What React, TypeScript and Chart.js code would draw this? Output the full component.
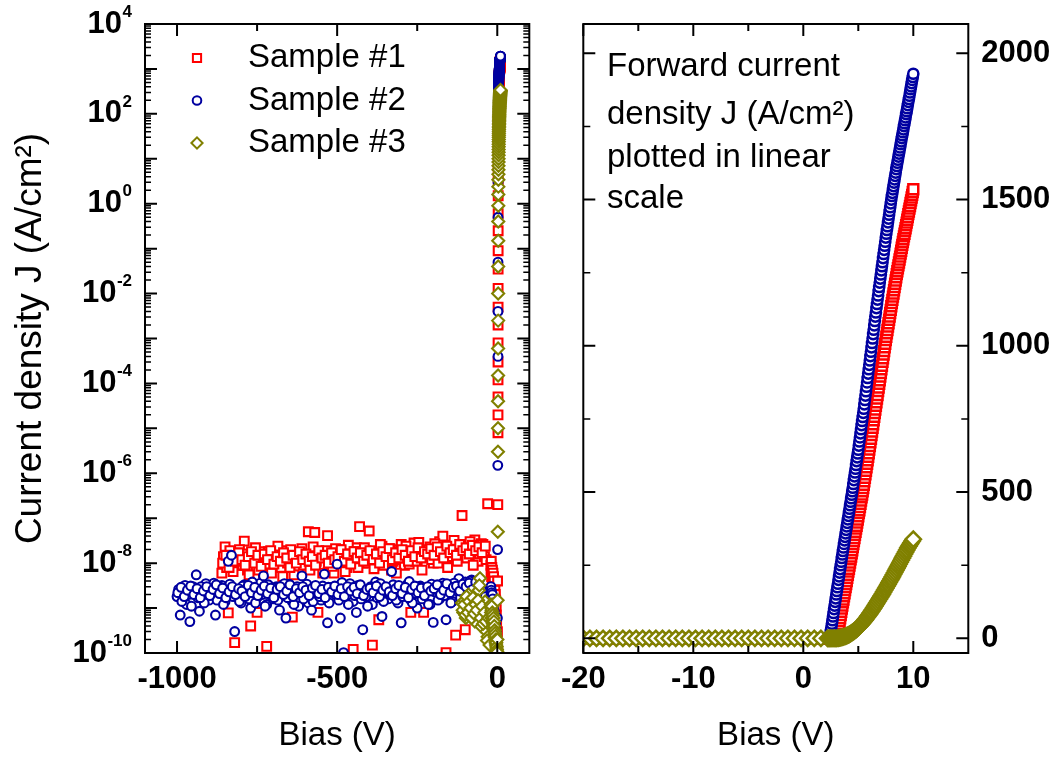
import React, { useEffect, useRef } from 'react';
import { Chart, registerables } from 'chart.js';

Chart.register(...registerables);

const FAMILY = '"Liberation Sans", Arial, Helvetica, sans-serif';

// ---------- series meta ----------
const seriesNames = ['Sample #1', 'Sample #2', 'Sample #3'];
const seriesColors = ['#ff0000', '#0000a0', '#808000'];
const seriesStyles = ['rect', 'circle', 'rectRot'];

// ---------- axis ticks / labels ----------
const leftXTicks = [-1000, -500, 0];
const leftXMinor = [-750, -250];
const leftYExponents = [4, 2, 0, -2, -4, -6, -8, -10];
const rightXTicks = [-20, -10, 0, 10];
const rightXMinor = [-15, -5, 5];
const rightYTicks = [0, 500, 1000, 1500, 2000];
const rightYMinor = [250, 750, 1250, 1750];
const leftXTitle = 'Bias (V)';
const rightXTitle = 'Bias (V)';
const leftYTitle = 'Current density J (A/cm\u00B2)';
const annotationLines = ['Forward current', 'density J (A/cm\u00B2)', 'plotted in linear', 'scale'];

// ---------- wide reverse sweep (V), pass A ----------
const reverseBias = [
  -1000, -990, -980, -970, -960, -950, -940, -930, -920, -910,
  -900, -890, -880, -870, -860, -850, -840, -830, -820, -810,
  -800, -790, -780, -770, -760, -750, -740, -730, -720, -710,
  -700, -690, -680, -670, -660, -650, -640, -630, -620, -610,
  -600, -590, -580, -570, -560, -550, -540, -530, -520, -510,
  -500, -490, -480, -470, -460, -450, -440, -430, -420, -410,
  -400, -390, -380, -370, -360, -350, -340, -330, -320, -310,
  -300, -290, -280, -270, -260, -250, -240, -230, -220, -210,
  -200, -190, -180, -170, -160, -150, -140, -130, -120, -110,
  -100, -90, -80, -70, -60, -50, -40, -30,
];
const sample1Reverse = [
  null, null, null, null, null, null, null, null, null, null,
  null, null, null, null, 6e-9, 2.3e-8, 7.8e-10, 1.2e-8, 1.7e-10, 9e-9,
  1.5e-8, 3.1e-8, 7e-9, 4e-10, 1.3e-8, 8e-10, 1.8e-8, 6e-9, 1.4e-10, 1.1e-8,
  1.6e-8, 8e-9, 1.2e-8, 5e-9, 1.9e-8, 9e-9, 6.3e-10, 1.4e-8, 7e-9, 2.1e-8,
  1e-8, 5e-8, 1.3e-8, 4.8e-8, 8e-10, 1.6e-8, 9e-9, 4.1e-8, 1.1e-8, 6e-9,
  1.7e-8, 1.2e-8, 2e-8, 8e-9, 1.4e-8, 1.2e-10, 2.2e-8, 6.5e-8, 1e-8, 1.9e-8,
  5.2e-8, 1.5e-10, 1.3e-8, 5.5e-10, 2.4e-8, 1.1e-8, 1.6e-8, 7e-9, 2e-8, 1.2e-8,
  2.6e-8, 9e-9, 1.5e-8, 8e-10, 2.8e-8, 1.2e-8, 1.8e-8, 8e-10, 1.4e-8, 2.3e-8,
  1e-8, 1.7e-8, 3e-8, 4e-8, 1.02e-10, 1.3e-8, 2.5e-8, 2.5e-10, 1.9e-8, 1.15e-7,
  3.3e-10, 2.2e-8, 1.5e-8, 3.3e-8, 1.1e-8, 2.7e-8, 1.4e-8, 2.1e-7,
];
const sample2Reverse = [
  1.8e-9, 7e-10, 2.5e-9, 1.2e-9, 5e-10, 3e-9, 5.5e-9, 8.5e-10, 2.2e-9, 3.5e-9,
  1.5e-9, 2.8e-9, 7e-10, 2e-9, 3.2e-9, 1.4e-9, 1.1e-8, 1.5e-8, 3e-10, 2.6e-9,
  1.3e-9, 3.3e-9, 2e-9, 1e-9, 2.8e-9, 1.7e-9, 3.6e-9, 5.2e-9, 1.2e-9, 2.5e-9,
  1.6e-9, 3e-9, 9e-10, 2.2e-9, 6e-10, 3.4e-9, 1.4e-9, 2.6e-9, 1.1e-9, 5.2e-9,
  2e-9, 1.3e-9, 9e-10, 3e-9, 2.3e-9, 1.5e-9, 5.7e-9, 4.7e-10, 2.7e-9, 1.7e-9,
  9.5e-9, 6e-10, 1.02e-10, 2.4e-9, 3.5e-9, 1.4e-9, 8e-10, 2.9e-9, 3.3e-10, 1.8e-9,
  2.6e-9, 1.2e-9, 3.8e-9, 2.1e-9, 6.5e-10, 2.5e-9, 1.6e-9, 6.5e-9, 3e-9, 1.3e-9,
  4.7e-10, 2.2e-9, 3.4e-9, 1.5e-9, 2.7e-9, 1e-9, 3.1e-9, 1.9e-9, 2.4e-9, 1.2e-9,
  4.8e-10, 2.9e-9, 1.6e-9, 3.6e-9, 5.5e-10, 2.3e-9, 1.4e-9, 3.2e-9, 4.5e-9, 2e-9,
  3.8e-9, 1.2e-9, 4.2e-9, 2.6e-9, 3.5e-9, 1.8e-9, 9e-10, 4e-10,
];

// ---------- wide reverse sweep (V), pass B ----------
const reverseBiasB = [
  -995, -985, -975, -965, -955, -945, -935, -925, -915, -905,
  -895, -885, -875, -865, -855, -845, -835, -825, -815, -805,
  -795, -785, -775, -765, -755, -745, -735, -725, -715, -705,
  -695, -685, -675, -665, -655, -645, -635, -625, -615, -605,
  -595, -585, -575, -565, -555, -545, -535, -525, -515, -505,
  -495, -485, -475, -465, -455, -445, -435, -425, -415, -405,
  -395, -385, -375, -365, -355, -345, -335, -325, -315, -305,
  -295, -285, -275, -265, -255, -245, -235, -225, -215, -205,
  -195, -185, -175, -165, -155, -145, -135, -125, -115, -105,
  -95, -85, -75, -65, -55, -45, -35,
];
const sample1ReverseB = [
  null, null, null, null, null, null, null, null, null, null,
  null, null, null, null, 1.4e-8, 8e-9, 1.9e-8, 6.5e-9, 1.2e-8, 2e-8,
  9e-9, 1.6e-8, 5.5e-9, 1.1e-8, 2.2e-8, 7e-9, 1.3e-8, 9.5e-9, 1.8e-8, 6e-9,
  1.2e-8, 2.4e-8, 8e-9, 1.5e-8, 1e-8, 2e-8, 5.5e-9, 1.3e-8, 1.7e-8, 9e-9,
  1.4e-8, 7e-9, 2.3e-8, 1.1e-8, 1.6e-8, 6e-9, 1.9e-8, 1.2e-8, 8.5e-9, 2.1e-8,
  1e-8, 1.5e-8, 6.5e-9, 2.5e-8, 1.2e-8, 1.8e-8, 8e-9, 1.4e-8, 2.2e-8, 1e-8,
  1.7e-8, 7.5e-9, 1.3e-8, 2.6e-8, 9e-9, 1.5e-8, 2.1e-8, 1.1e-8, 6e-9, 1.8e-8,
  1.3e-8, 2.4e-8, 9.5e-9, 1.6e-8, 1.1e-8, 2.9e-8, 7e-9, 1.5e-8, 2e-8, 1.2e-8,
  2.7e-8, 1e-8, 1.7e-8, 2.3e-8, 8e-9, 1.4e-8, 3.2e-8, 1.1e-8, 1.9e-8, 2.5e-8,
  1.3e-8, 3e-8, 9e-9, 2e-8, 1.6e-8, 2.6e-8, 1.2e-8,
];
const sample2ReverseB = [
  2.6e-9, 1.4e-9, 3.2e-9, 2e-9, 1.1e-9, 2.4e-9, 1.7e-9, 3e-9, 1.3e-9, 2.7e-9,
  2.1e-9, 3.6e-9, 1.5e-9, 2.9e-9, 1.2e-9, 2.3e-9, 3.4e-9, 1.8e-9, 2.5e-9, 1.4e-9,
  3.1e-9, 2.2e-9, 1.6e-9, 3.8e-9, 1.3e-9, 2.6e-9, 2e-9, 1.1e-9, 3.3e-9, 1.9e-9,
  2.8e-9, 1.5e-9, 2.4e-9, 3.5e-9, 1.7e-9, 2.2e-9, 1.2e-9, 3e-9, 2.6e-9, 1.6e-9,
  3.4e-9, 2.1e-9, 1.4e-9, 2.7e-9, 1.8e-9, 3.1e-9, 2.3e-9, 1.3e-9, 2.9e-9, 2e-9,
  1.5e-9, 3.7e-9, 2.5e-9, 1.2e-9, 2.8e-9, 1.9e-9, 3.2e-9, 1.6e-9, 2.4e-9, 1.1e-9,
  3e-9, 2.2e-9, 1.7e-9, 3.5e-9, 1.4e-9, 2.6e-9, 2e-9, 3.3e-9, 1.5e-9, 2.8e-9,
  1.8e-9, 2.5e-9, 3.9e-9, 1.3e-9, 2.1e-9, 3e-9, 1.6e-9, 2.7e-9, 1.2e-9, 3.4e-9,
  2.3e-9, 1.5e-9, 3.1e-9, 1.9e-9, 2.6e-9, 1.3e-9, 3.6e-9, 2.4e-9, 1.7e-9, 3.2e-9,
  2.8e-9, 4e-9, 3.3e-9, 1.9e-9, 4.4e-9, 2.5e-9, 1.5e-9,
];

// ---------- wide reverse sweep (V), pass C ----------
const reverseBiasC = [
  -997.5, -987.5, -977.5, -967.5, -957.5, -947.5, -937.5, -927.5, -917.5, -907.5,
  -897.5, -887.5, -877.5, -867.5, -857.5, -847.5, -837.5, -827.5, -817.5, -807.5,
  -797.5, -787.5, -777.5, -767.5, -757.5, -747.5, -737.5, -727.5, -717.5, -707.5,
  -697.5, -687.5, -677.5, -667.5, -657.5, -647.5, -637.5, -627.5, -617.5, -607.5,
  -597.5, -587.5, -577.5, -567.5, -557.5, -547.5, -537.5, -527.5, -517.5, -507.5,
  -497.5, -487.5, -477.5, -467.5, -457.5, -447.5, -437.5, -427.5, -417.5, -407.5,
  -397.5, -387.5, -377.5, -367.5, -357.5, -347.5, -337.5, -327.5, -317.5, -307.5,
  -297.5, -287.5, -277.5, -267.5, -257.5, -247.5, -237.5, -227.5, -217.5, -207.5,
  -197.5, -187.5, -177.5, -167.5, -157.5, -147.5, -137.5, -127.5, -117.5, -107.5,
  -97.5, -87.5, -77.5, -67.5, -57.5, -47.5, -37.5,
];
const sample1ReverseC = [
  null, null, null, null, null, null, null, null, null, null,
  null, null, null, null, 1e-8, 1.5e-8, 8e-9, 1.3e-8, 1.1e-8, 1.7e-8,
  1.2e-8, 9e-9, 1.4e-8, 1.8e-8, 1e-8, 1.5e-8, 8.5e-9, 1.6e-8, 1.2e-8, 1.9e-8,
  9.5e-9, 1.4e-8, 1.1e-8, 1.7e-8, 1.3e-8, 8e-9, 1.5e-8, 1e-8, 1.8e-8, 1.2e-8,
  1.6e-8, 1.1e-8, 1.4e-8, 9e-9, 1.9e-8, 1.3e-8, 1.5e-8, 1e-8, 1.7e-8, 1.2e-8,
  1.4e-8, 2e-8, 1.1e-8, 1.6e-8, 9.5e-9, 1.8e-8, 1.3e-8, 1.7e-8, 1.1e-8, 1.5e-8,
  1.9e-8, 1.2e-8, 1.6e-8, 1e-8, 1.8e-8, 1.4e-8, 2.1e-8, 1.2e-8, 1.7e-8, 1.3e-8,
  2e-8, 1.5e-8, 1.1e-8, 1.9e-8, 1.4e-8, 2.2e-8, 1.3e-8, 1.8e-8, 1.6e-8, 2.1e-8,
  1.5e-8, 2.3e-8, 1.8e-8, 1.3e-8, 2.4e-8, 1.7e-8, 2e-8, 1.5e-8, 2.6e-8, 1.9e-8,
  2.2e-8, 1.6e-8, 2.5e-8, 1.9e-8, 2.3e-8, 1.7e-8, 2.4e-8,
];
const sample2ReverseC = [
  2.2e-9, 2.9e-9, 1.8e-9, 2.5e-9, 3.1e-9, 2e-9, 2.7e-9, 1.7e-9, 2.4e-9, 3e-9,
  1.9e-9, 2.6e-9, 3.3e-9, 2.1e-9, 2.8e-9, 1.7e-9, 2.3e-9, 3e-9, 2e-9, 2.7e-9,
  2.4e-9, 1.8e-9, 3.2e-9, 2.2e-9, 2.9e-9, 1.9e-9, 2.5e-9, 3.1e-9, 2.1e-9, 2.8e-9,
  1.7e-9, 2.6e-9, 3e-9, 2e-9, 2.4e-9, 3.3e-9, 1.8e-9, 2.7e-9, 2.2e-9, 3e-9,
  2.5e-9, 1.9e-9, 2.8e-9, 3.2e-9, 2.1e-9, 2.6e-9, 1.7e-9, 2.9e-9, 2.3e-9, 3.1e-9,
  2e-9, 2.7e-9, 1.8e-9, 3e-9, 2.4e-9, 2.9e-9, 2.1e-9, 3.3e-9, 1.9e-9, 2.6e-9,
  2.8e-9, 2.2e-9, 3.1e-9, 1.8e-9, 2.5e-9, 3e-9, 2.3e-9, 1.9e-9, 2.7e-9, 3.2e-9,
  2.1e-9, 2.9e-9, 1.7e-9, 2.6e-9, 3.1e-9, 2.2e-9, 2.8e-9, 1.9e-9, 3e-9, 2.4e-9,
  2.7e-9, 3.3e-9, 2e-9, 2.5e-9, 3.5e-9, 2.2e-9, 2.9e-9, 3.1e-9, 2.4e-9, 3.4e-9,
  3e-9, 3.6e-9, 2.6e-9, 3.8e-9, 3.2e-9, 2.4e-9, 1.8e-9,
];

// ---------- Sample #3 short reverse sweep ----------
const reverseBias3 = [
  -110, -106, -102, -98, -94, -90, -86, -82, -78, -74,
  -70, -66, -62, -58, -54, -50, -46, -42, -38, -34,
  -30, -26, -22,
];
const sample3Reverse = [
  1.3e-9, 8e-10, 1.5e-9, 6e-10, 1.1e-9, 2e-9, 7e-10, 1.3e-9, 9e-10, 1.6e-9,
  5e-10, 1.1e-9, 8e-10, 2.5e-9, 4.6e-9, 3.9e-10, 1e-9, 6e-10, 1.4e-9, 3e-10,
  2.3e-10, 7e-10, 4e-10,
];
const reverseBias3B = [
  -108, -104, -100, -96, -92, -88, -84, -80, -76, -72,
  -68, -64, -60, -56, -52, -48, -44, -40, -36, -32,
  -28, -24,
];
const sample3ReverseB = [
  9e-10, 1.2e-9, 7e-10, 1.8e-9, 8e-10, 1.4e-9, 1e-9, 6e-10, 1.7e-9, 7.5e-10,
  1.2e-9, 9e-10, 1.5e-9, 3.2e-9, 6e-10, 1.1e-9, 4.5e-10, 8e-10, 5e-10, 1.9e-10,
  6e-10, 1.5e-10,
];

// ---------- -20 V .. 2.2 V sweep ----------
const biasCoarse = [
  -20, -19.4, -18.8, -18.2, -17.6, -17, -16.4, -15.8, -15.2, -14.6,
  -14, -13.4, -12.8, -12.2, -11.6, -11, -10.4, -9.8, -9.2, -8.6,
  -8, -7.4, -6.8, -6.2, -5.6, -5, -4.4, -3.8, -3.2, -2.6,
  -2, -1.4, -0.8, -0.2, 0.4, 1, 1.6, 2.2,
];
const sample1Coarse = [
  9e-9, 6e-9, 1.1e-8, 7e-9, 5e-9, 8e-9, 6e-9, 4e-9, 7e-9, 5e-9,
  3.5e-9, 6e-9, 4e-9, 3e-9, 5e-9, 3e-9, 2.5e-9, 4e-9, 2e-9, 3e-9,
  1.8e-9, 2.5e-9, 1.5e-9, 2e-9, 1.2e-9, 1.5e-9, 9e-10, 1.1e-9, 7e-10, 5e-10,
  4e-10, 2.5e-10, 1.6e-10, 1.1e-10, 3e-10, 4e-9, 2e-7, 8e-6,
];
const sample2Coarse = [
  3e-9, 2e-9, 2.5e-9, 1.5e-9, 2.2e-9, 1.3e-9, 1.8e-9, 1.2e-9, 2e-9, 1e-9,
  1.6e-9, 9e-10, 1.3e-9, 8e-10, 1.1e-9, 7e-10, 9e-10, 6e-10, 8e-10, 5e-10,
  6.5e-10, 4.5e-10, 5.5e-10, 3.5e-10, 4.5e-10, 3e-10, 3.5e-10, 2.5e-10, 2.8e-10, 2e-10,
  1.6e-10, 1.3e-10, 1.1e-10, 1.05e-10, 6e-10, 2e-8, 1.5e-6, 4e-4,
];
const sample3Coarse = [
  1.2e-9, 8e-10, 1e-9, 6e-10, 9e-10, 1.1e-9, 7e-10, 5e-10, 8e-10, 6e-10,
  4.5e-10, 7e-10, 5e-10, 4e-10, 6e-10, 3.5e-10, 5e-10, 3e-10, 4e-10, 2.6e-10,
  3.2e-10, 2.2e-10, 2.8e-10, 1.9e-10, 2.4e-10, 1.7e-10, 2e-10, 1.5e-10, 1.7e-10, 1.3e-10,
  1.4e-10, 1.2e-10, 1.1e-10, 1.05e-10, 2e-10, 1.5e-9, 5e-8, 3e-6,
];

// ---------- forward sweep, fine steps (Samples #1 and #2) ----------
const biasFine = [
  2.25, 2.3, 2.35, 2.4, 2.45, 2.5, 2.55, 2.6, 2.65, 2.7,
  2.75, 2.8, 2.85, 2.9, 2.95, 3, 3.05, 3.1, 3.15, 3.2,
  3.25, 3.3, 3.35, 3.4, 3.45, 3.5, 3.55, 3.6, 3.65, 3.7,
  3.75, 3.8, 3.85, 3.9, 3.95, 4, 4.05, 4.1, 4.15, 4.2,
  4.25, 4.3, 4.35, 4.4, 4.45, 4.5, 4.55, 4.6, 4.65, 4.7,
  4.75, 4.8, 4.85, 4.9, 4.95, 5, 5.05, 5.1, 5.15, 5.2,
  5.25, 5.3, 5.35, 5.4, 5.45, 5.5, 5.55, 5.6, 5.65, 5.7,
  5.75, 5.8, 5.85, 5.9, 5.95, 6, 6.05, 6.1, 6.15, 6.2,
  6.25, 6.3, 6.35, 6.4, 6.45, 6.5, 6.55, 6.6, 6.65, 6.7,
  6.75, 6.8, 6.85, 6.9, 6.95, 7, 7.05, 7.1, 7.15, 7.2,
  7.25, 7.3, 7.35, 7.4, 7.45, 7.5, 7.55, 7.6, 7.65, 7.7,
  7.75, 7.8, 7.85, 7.9, 7.95, 8, 8.05, 8.1, 8.15, 8.2,
  8.25, 8.3, 8.35, 8.4, 8.45, 8.5, 8.55, 8.6, 8.65, 8.7,
  8.75, 8.8, 8.85, 8.9, 8.95, 9, 9.05, 9.1, 9.15, 9.2,
  9.25, 9.3, 9.35, 9.4, 9.45, 9.5, 9.55, 9.6, 9.65, 9.7,
  9.75, 9.8, 9.85, 9.9, 9.95, 10,
];
const sample1Fine = [
  2e-5, 5e-5, 1.2e-4, 3e-4, 8e-4, 2e-3, 5e-3, 0.013, 0.035, 0.09,
  0.25, 0.6, 1.5, 3, 5, 8, 14, 21, 29, 38,
  48, 58, 69, 80, 91, 102, 112, 123, 133, 144,
  154, 165, 175, 186, 196, 207, 217, 228, 238, 249,
  259, 270, 280, 291, 301, 312, 322, 333, 343, 354,
  364, 375, 385, 396, 406, 417, 428, 438, 449, 460,
  471, 482, 492, 503, 514, 525, 537, 549, 561, 573,
  585, 597, 609, 621, 633, 645, 657, 670, 682, 695,
  707, 720, 732, 745, 757, 770, 782, 795, 807, 820,
  832, 845, 857, 870, 882, 895, 907, 920, 932, 945,
  957, 970, 982, 995, 1007, 1020, 1031, 1043, 1054, 1066,
  1077, 1089, 1100, 1112, 1123, 1135, 1146, 1157, 1168, 1179,
  1190, 1201, 1212, 1223, 1234, 1245, 1255, 1265, 1275, 1285,
  1295, 1305, 1315, 1325, 1335, 1345, 1355, 1364, 1374, 1383,
  1393, 1402, 1412, 1421, 1431, 1440, 1450, 1459, 1469, 1478,
  1488, 1497, 1507, 1516, 1526, 1535,
];
const sample2Fine = [
  0.004, 0.05, 0.5, 3, 12, 25, 37, 50, 62, 75,
  87, 100, 112, 125, 137, 150, 162, 175, 187, 200,
  212, 225, 237, 250, 262, 275, 287, 299, 311, 323,
  335, 347, 359, 371, 383, 395, 407, 419, 431, 443,
  455, 467, 479, 491, 503, 515, 528, 541, 554, 567,
  580, 593, 606, 619, 632, 645, 659, 673, 687, 701,
  715, 729, 743, 757, 771, 785, 800, 815, 830, 845,
  860, 875, 890, 905, 920, 935, 950, 965, 980, 995,
  1010, 1025, 1040, 1055, 1070, 1085, 1100, 1114, 1129, 1143,
  1158, 1172, 1187, 1201, 1216, 1230, 1244, 1258, 1272, 1286,
  1300, 1314, 1328, 1342, 1356, 1370, 1383, 1396, 1409, 1422,
  1435, 1448, 1461, 1474, 1487, 1500, 1512, 1523, 1535, 1546,
  1558, 1569, 1581, 1592, 1604, 1615, 1626, 1636, 1647, 1657,
  1668, 1678, 1689, 1699, 1710, 1720, 1730, 1740, 1751, 1761,
  1771, 1781, 1792, 1802, 1812, 1823, 1834, 1844, 1855, 1866,
  1877, 1887, 1898, 1909, 1919, 1930,
];

// ---------- forward sweep, Sample #3 ----------
const biasFine3 = [
  2.3, 2.4, 2.5, 2.6, 2.7, 2.8, 2.9, 3, 3.1, 3.2,
  3.3, 3.4, 3.5, 3.6, 3.7, 3.8, 3.9, 4, 4.1, 4.2,
  4.3, 4.4, 4.5, 4.6, 4.7, 4.8, 4.9, 5, 5.1, 5.2,
  5.3, 5.4, 5.5, 5.6, 5.7, 5.8, 5.9, 6, 6.1, 6.2,
  6.3, 6.4, 6.5, 6.6, 6.7, 6.8, 6.9, 7, 7.1, 7.2,
  7.3, 7.4, 7.5, 7.6, 7.7, 7.8, 7.9, 8, 8.1, 8.2,
  8.3, 8.4, 8.5, 8.6, 8.7, 8.8, 8.9, 9, 9.1, 9.2,
  9.3, 9.4, 9.5, 9.6, 9.7, 9.8, 9.9, 10,
];
const sample3Fine = [
  1e-5, 4e-5, 1.5e-4, 6e-4, 2.5e-3, 0.01, 0.04, 0.15, 0.4, 0.9,
  1.6, 2.4, 3.4, 4.5, 5.7, 7, 8.5, 10, 12, 14,
  16, 18.5, 21, 24, 27, 30, 33.5, 37, 41, 45,
  49, 53, 57.5, 62, 67, 72, 77, 82, 87.5, 93,
  98.5, 104, 110, 116, 122, 128, 134, 140, 146, 152,
  158.5, 165, 171.5, 178, 184.5, 191, 197.5, 204, 211, 218,
  225, 232, 239, 246, 253, 260, 267, 274, 281, 288,
  295, 302, 309, 315, 321, 327, 333, 339,
];

// ---------- helpers ----------
type Pt = { x: number; y: number };
function toPoints(xs: number[], ys: (number | null)[]): Pt[] {
  const out: Pt[] = [];
  xs.forEach((x, i) => {
    const y = ys[i];
    if (y !== null && y !== undefined) out.push({ x, y });
  });
  return out;
}

const seriesPoints: Pt[][] = [
  [
    ...toPoints(reverseBias, sample1Reverse),
    ...toPoints(reverseBiasB, sample1ReverseB),
    ...toPoints(reverseBiasC, sample1ReverseC),
    ...toPoints(biasCoarse, sample1Coarse),
    ...toPoints(biasFine, sample1Fine),
  ],
  [
    ...toPoints(reverseBias, sample2Reverse),
    ...toPoints(reverseBiasB, sample2ReverseB),
    ...toPoints(reverseBiasC, sample2ReverseC),
    ...toPoints(biasCoarse, sample2Coarse),
    ...toPoints(biasFine, sample2Fine),
  ],
  [
    ...toPoints(reverseBias3, sample3Reverse),
    ...toPoints(reverseBias3B, sample3ReverseB),
    ...toPoints(biasCoarse, sample3Coarse),
    ...toPoints(biasFine3, sample3Fine),
  ],
];

function drawMarker(ctx: CanvasRenderingContext2D, style: string, x: number, y: number, r: number, color: string) {
  ctx.save();
  ctx.lineWidth = 2;
  ctx.strokeStyle = color;
  ctx.fillStyle = '#ffffff';
  ctx.beginPath();
  if (style === 'rect') {
    const s = r * Math.SQRT1_2;
    ctx.rect(x - s, y - s, 2 * s, 2 * s);
  } else if (style === 'circle') {
    ctx.arc(x, y, r, 0, Math.PI * 2);
  } else {
    ctx.moveTo(x - r, y);
    ctx.lineTo(x, y - r);
    ctx.lineTo(x + r, y);
    ctx.lineTo(x, y + r);
    ctx.closePath();
  }
  ctx.fill();
  ctx.stroke();
  ctx.restore();
}

type TickSpec = { xMajor: number[]; xMinor: number[]; yMajor: number[]; yMinor: number[]; yMinorLen: number };

function framePlugin(spec: TickSpec) {
  return {
    id: 'frameTicks',
    afterDatasetsDraw(chart: any) {
      const { ctx, chartArea: a, scales } = chart;
      const xs = scales.x;
      const ys = scales.y;
      ctx.save();
      ctx.strokeStyle = '#000';
      ctx.lineWidth = 2;
      ctx.beginPath();
      const seg = (x1: number, y1: number, x2: number, y2: number) => {
        ctx.moveTo(x1, y1);
        ctx.lineTo(x2, y2);
      };
      spec.xMajor.forEach((v) => {
        const p = xs.getPixelForValue(v);
        seg(p, a.top, p, a.top + 12);
        seg(p, a.bottom, p, a.bottom - 12);
      });
      spec.xMinor.forEach((v) => {
        const p = xs.getPixelForValue(v);
        seg(p, a.top, p, a.top + 7);
        seg(p, a.bottom, p, a.bottom - 7);
      });
      spec.yMajor.forEach((v) => {
        const p = ys.getPixelForValue(v);
        seg(a.left, p, a.left + 12, p);
        seg(a.right, p, a.right - 12, p);
      });
      ctx.stroke();
      ctx.lineWidth = 1.5;
      ctx.beginPath();
      spec.yMinor.forEach((v) => {
        const p = ys.getPixelForValue(v);
        seg(a.left, p, a.left + spec.yMinorLen, p);
        seg(a.right, p, a.right - spec.yMinorLen, p);
      });
      ctx.stroke();
      ctx.lineWidth = 2;
      ctx.strokeRect(a.left, a.top, a.right - a.left, a.bottom - a.top);
      ctx.restore();
    },
  };
}

const logDecades: number[] = [];
const logMinor: number[] = [];
for (let e = -10; e <= 4; e++) {
  logDecades.push(Math.pow(10, e));
  if (e < 4) for (let k = 2; k <= 9; k++) logMinor.push(k * Math.pow(10, e));
}

const logLabelPlugin = {
  id: 'logLabels',
  afterDraw(chart: any) {
    const { ctx } = chart;
    const ys = chart.scales.y;
    const right = 132;
    ctx.save();
    ctx.fillStyle = '#000';
    ctx.textBaseline = 'middle';
    leftYExponents.forEach((e) => {
      const py = ys.getPixelForValue(Math.pow(10, e));
      const expText = String(e);
      ctx.font = `bold 17px ${FAMILY}`;
      const ew = ctx.measureText(expText).width;
      ctx.textAlign = 'left';
      ctx.fillText(expText, right - ew, py - 12);
      ctx.font = `bold 31px ${FAMILY}`;
      ctx.textAlign = 'right';
      ctx.fillText('10', right - ew - 0.5, py);
    });
    ctx.restore();
  },
};

const legendRows = [58, 100.5, 143];
const legendRadius = [5.8, 4.3, 5.6];
const legendPlugin = {
  id: 'innerLegend',
  afterDraw(chart: any) {
    const { ctx } = chart;
    ctx.save();
    seriesNames.forEach((name, i) => {
      drawMarker(ctx, seriesStyles[i], 197, legendRows[i], legendRadius[i], seriesColors[i]);
      ctx.fillStyle = '#000';
      ctx.font = `33px ${FAMILY}`;
      ctx.textAlign = 'left';
      ctx.textBaseline = 'middle';
      ctx.fillText(name, 248, legendRows[i]);
    });
    ctx.restore();
  },
};

const annotationBaselines = [76, 124, 166.5, 208];
const annotationPlugin = {
  id: 'annotationText',
  afterDraw(chart: any) {
    const { ctx } = chart;
    ctx.save();
    ctx.fillStyle = '#000';
    ctx.font = `33px ${FAMILY}`;
    ctx.textAlign = 'left';
    ctx.textBaseline = 'alphabetic';
    annotationLines.forEach((t, i) => ctx.fillText(t, 51, annotationBaselines[i]));
    ctx.restore();
  },
};

const tickFont = { family: FAMILY, size: 31, weight: 'bold' as const };
const titleFont = { family: FAMILY, size: 33 };

function zeroPadding(s: any) {
  s.paddingLeft = 0;
  s.paddingRight = 0;
  s.paddingTop = 0;
  s.paddingBottom = 0;
}

function makeDatasets(radii: number[], lineW: number) {
  return seriesPoints.map((pts, i) => ({
    label: seriesNames[i],
    data: pts,
    pointStyle: seriesStyles[i],
    pointRadius: radii[i],
    pointBorderWidth: lineW,
    borderColor: seriesColors[i],
    pointBorderColor: seriesColors[i],
    pointBackgroundColor: '#ffffff',
    backgroundColor: '#ffffff',
    showLine: false,
    order: 3 - i,
  }));
}

function leftConfig(): any {
  return {
    type: 'scatter',
    data: { datasets: makeDatasets([6.2, 4.4, 6.0], 2.1) },
    options: {
      animation: false,
      responsive: false,
      maintainAspectRatio: false,
      devicePixelRatio: 1,
      events: [],
      layout: { padding: { left: 0, right: 26.7, top: 24, bottom: 0 } },
      plugins: { legend: { display: false }, tooltip: { enabled: false } },
      scales: {
        x: {
          type: 'linear',
          position: 'bottom',
          min: -1100,
          max: 100,
          afterBuildTicks: (s: any) => {
            s.ticks = leftXTicks.map((v) => ({ value: v }));
          },
          afterFit: (s: any) => {
            s.height = 108;
            zeroPadding(s);
          },
          grid: { display: false, drawTicks: false },
          border: { display: false },
          ticks: { font: tickFont, color: '#000', padding: 8, maxRotation: 0, autoSkip: false, callback: (v: any) => String(v) },
          title: { display: true, text: leftXTitle, font: titleFont, color: '#000', padding: { top: 0, bottom: 5 } },
        },
        y: {
          type: 'logarithmic',
          position: 'left',
          min: 1e-10,
          max: 1e4,
          afterFit: (s: any) => {
            s.width = 145;
            zeroPadding(s);
          },
          grid: { display: false, drawTicks: false },
          border: { display: false },
          ticks: { display: false },
          title: { display: true, text: leftYTitle, font: { family: FAMILY, size: 37 }, color: '#000', padding: { top: 9, bottom: 0 } },
        },
      },
    },
    plugins: [
      framePlugin({ xMajor: leftXTicks, xMinor: leftXMinor, yMajor: logDecades, yMinor: logMinor, yMinorLen: 6 }),
      logLabelPlugin,
      legendPlugin,
    ],
  };
}

function rightConfig(): any {
  return {
    type: 'scatter',
    data: { datasets: makeDatasets([7.0, 5.1, 7.6], 2.5) },
    options: {
      animation: false,
      responsive: false,
      maintainAspectRatio: false,
      devicePixelRatio: 1,
      events: [],
      layout: { padding: { left: 27.3, right: 0, top: 24, bottom: 0 } },
      plugins: { legend: { display: false }, tooltip: { enabled: false } },
      scales: {
        x: {
          type: 'linear',
          position: 'bottom',
          min: -20,
          max: 15,
          afterBuildTicks: (s: any) => {
            s.ticks = rightXTicks.map((v) => ({ value: v }));
          },
          afterFit: (s: any) => {
            s.height = 108;
            zeroPadding(s);
          },
          grid: { display: false, drawTicks: false },
          border: { display: false },
          ticks: { font: tickFont, color: '#000', padding: 8, maxRotation: 0, autoSkip: false, callback: (v: any) => String(v) },
          title: { display: true, text: rightXTitle, font: titleFont, color: '#000', padding: { top: 0, bottom: 5 } },
        },
        y: {
          type: 'linear',
          position: 'right',
          min: -50,
          max: 2100,
          afterBuildTicks: (s: any) => {
            s.ticks = rightYTicks.map((v) => ({ value: v }));
          },
          afterFit: (s: any) => {
            s.width = 91.7;
            zeroPadding(s);
          },
          grid: { display: false, drawTicks: false },
          border: { display: false },
          ticks: { font: tickFont, color: '#000', padding: 13, autoSkip: false, callback: (v: any) => String(v) },
        },
      },
    },
    plugins: [
      framePlugin({ xMajor: rightXTicks, xMinor: rightXMinor, yMajor: rightYTicks, yMinor: rightYMinor, yMinorLen: 7 }),
      annotationPlugin,
    ],
  };
}

export default function App() {
  const leftRef = useRef<HTMLCanvasElement>(null);
  const rightRef = useRef<HTMLCanvasElement>(null);

  useEffect(() => {
    const left = new Chart(leftRef.current as HTMLCanvasElement, leftConfig());
    const right = new Chart(rightRef.current as HTMLCanvasElement, rightConfig());
    return () => {
      left.destroy();
      right.destroy();
    };
  }, []);

  return (
    <div style={{ position: 'fixed', left: 0, top: 0, width: 1060, height: 761, background: '#ffffff', overflow: 'hidden' }}>
      <canvas
        ref={leftRef}
        width={556}
        height={761}
        style={{ position: 'absolute', left: 0, top: 0, width: 556, height: 761 }}
      />
      <canvas
        ref={rightRef}
        width={504}
        height={761}
        style={{ position: 'absolute', left: 556, top: 0, width: 504, height: 761 }}
      />
    </div>
  );
}
